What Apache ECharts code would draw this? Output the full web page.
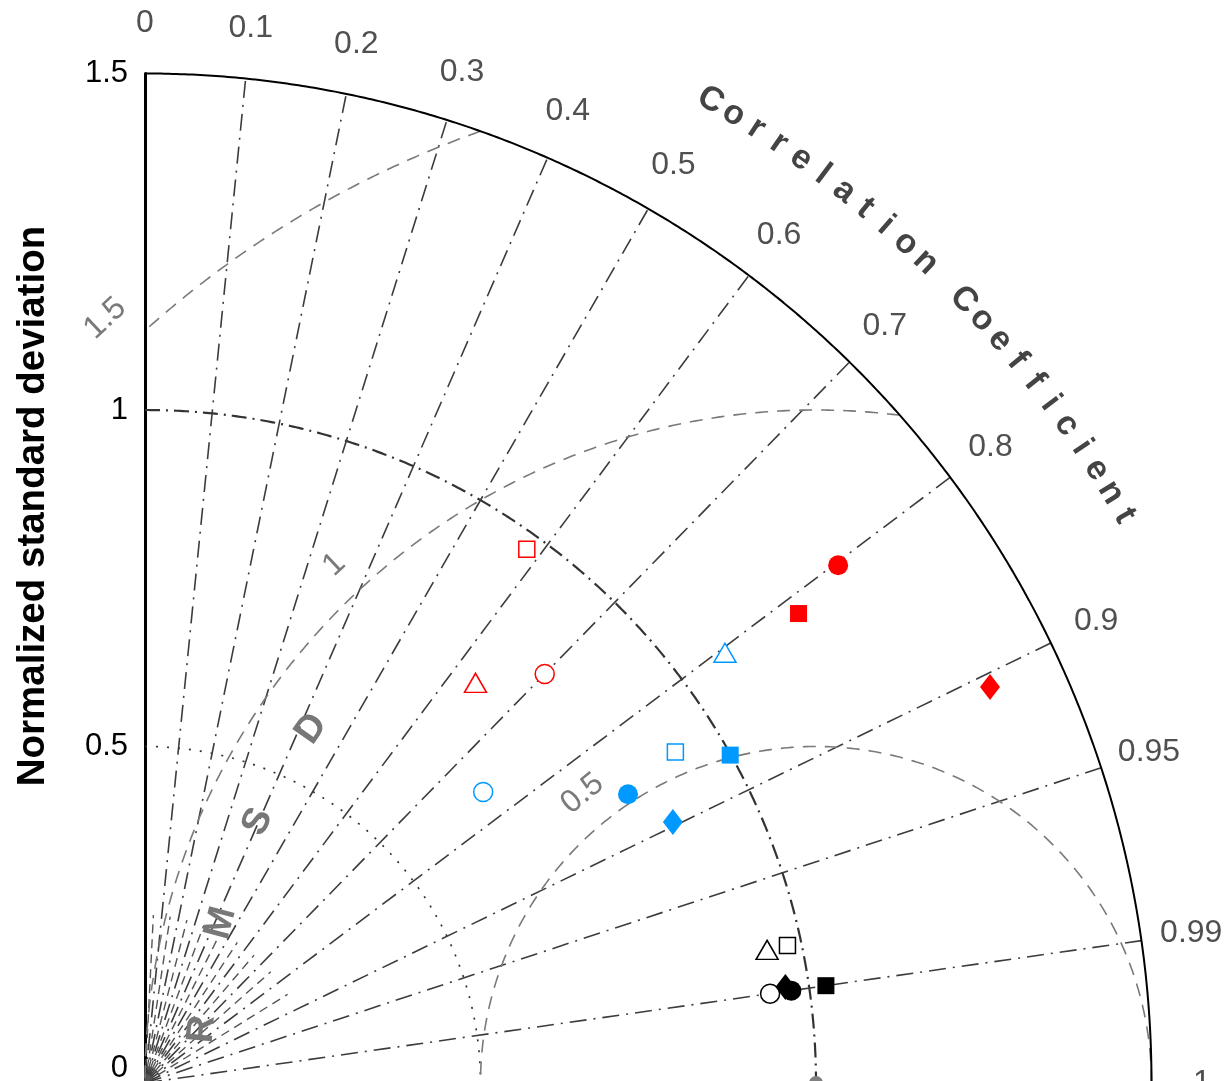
<!DOCTYPE html>
<html><head><meta charset="utf-8">
<script src="https://cdn.jsdelivr.net/npm/echarts@6/dist/echarts.min.js"></script>
<style>html,body{margin:0;padding:0;background:#fff}#c{width:1228px;height:1081px}</style>
</head><body><div id="c"></div>
<script>
// ---------------- data ----------------
const groupNames = ['red', 'blue', 'black'];
// normalized standard deviation and correlation, order: red, blue, black
const stdOpenCircle    = [0.851, 0.664, 0.941];
const corrOpenCircle   = [0.700, 0.759, 0.990];
const stdOpenSquare    = [0.976, 0.931, 0.979];
const corrOpenSquare   = [0.583, 0.849, 0.978];
const stdOpenTriangle  = [0.772, 1.075, 0.948];
const corrOpenTriangle = [0.638, 0.804, 0.978];
const stdDiamond       = [1.390, 0.877, 0.965];
const corrDiamond      = [0.906, 0.897, 0.989];
const stdFilledCircle  = [1.288, 0.838, 0.973];
const corrFilledCircle = [0.802, 0.859, 0.990];
const stdFilledSquare  = [1.198, 0.999, 1.025];
const corrFilledSquare = [0.813, 0.873, 0.990];

const refStd = 1.0;
const stdMax = 1.5;
const corrMajor = [0.1, 0.2, 0.3, 0.4, 0.5, 0.6, 0.7, 0.8, 0.9, 0.95, 0.99];
const corrMinor = [0.05, 0.15, 0.25, 0.35, 0.45, 0.55, 0.65, 0.75, 0.85];
const corrTickValues = [0, 0.1, 0.2, 0.3, 0.4, 0.5, 0.6, 0.7, 0.8, 0.9, 0.95, 0.99, 1];
const corrTickLabels = ['0', '0.1', '0.2', '0.3', '0.4', '0.5', '0.6', '0.7', '0.8', '0.9', '0.95', '0.99', '1'];
const rmsdLevels = [0.5, 1.0, 1.5];
const rmsdLevelLabels = ['0.5', '1', '1.5'];
const yTickValues = [0, 0.5, 1, 1.5];
const yTitle = 'Normalized standard deviation';
const corrTitle = 'Correlation Coefficient';
const rmsdTitle = ['R', 'M', 'S', 'D'];

// ---------------- styles / layout ----------------
const groupColors = ['#ff0000', '#0099ff', '#000000'];
const FONT = '"Liberation Sans", Arial, Helvetica, sans-serif';
const D = Math.PI / 180;

function toXY(s, c) { return [s * c, s * Math.sqrt(Math.max(0, 1 - c * c))]; }
function polarXY(cx, r, angDeg) { return [cx + r * Math.cos(angDeg * D), r * Math.sin(angDeg * D)]; }
function arc(cx, r, a0, a1, n) {
  const pts = [];
  for (let i = 0; i <= n; i++) { pts.push(polarXY(cx, r, a0 + (a1 - a0) * i / n)); }
  return pts;
}
function lineSeries(data, color, width, type, z) {
  return { type: 'line', data: data, showSymbol: false, symbol: 'none', silent: true, clip: false,
    lineStyle: { color: color, width: width, type: type, opacity: 1 }, z: z || 2, animation: false };
}
function textSeries(items, style, z) {
  return { type: 'scatter', symbolSize: 1, clip: false, silent: true, z: z || 4, animation: false,
    itemStyle: { color: 'rgba(0,0,0,0)', opacity: 1 },
    label: Object.assign({ show: true, position: 'inside', formatter: '{b}', fontFamily: FONT,
      align: 'center', verticalAlign: 'middle' }, style),
    data: items.map(it => ({ name: it.t, value: it.p, label: { rotate: it.r } })) };
}

const series = [];
// std arcs
series.push(lineSeries(arc(0, 0.5, 90, 0, 180), '#333', 1.7, [2, 9], 2));
series.push(lineSeries(arc(0, 1.0, 90, 0, 360), '#333', 2.2, [15, 6, 2, 6], 2));
series.push(lineSeries(arc(0, stdMax, 90, 0, 400), '#000', 2, 'solid', 3));
// radial correlation lines
corrMajor.forEach(c => series.push(lineSeries([[0, 0], toXY(stdMax, c)], '#3c3c3c', 1.6, [17, 7, 2, 7], 2)));
corrMinor.forEach(c => series.push(lineSeries([[0, 0], toXY(0.25, c)], '#555', 1.4, [9, 6], 2)));
// RMSD arcs around reference point
rmsdLevels.forEach(r => {
  const cMin = (stdMax * stdMax - refStd * refStd - r * r) / (2 * r * refStd);
  const a0 = cMin >= 1 ? 0 : Math.acos(Math.max(-1, Math.min(1, cMin))) / D;
  const a1 = Math.acos(Math.max(-1, -refStd / r)) / D;
  series.push(lineSeries(arc(refStd, r, a0, a1, 300), '#7a7a7a', 1.6, [13, 9], 2));
});
// correlation tick labels
series.push(textSeries(corrTickValues.map((c, i) => ({ t: corrTickLabels[i], p: toXY(1.575, c), r: 0 })),
  { fontSize: 32, color: '#505050' }));
// correlation title along arc
const titleChars = corrTitle.split('');
series.push(textSeries(titleChars.map((ch, i) => {
  const a = 60 - i * 30 / (titleChars.length - 1);
  return { t: ch === ' ' ? '' : ch, p: polarXY(0, 1.686, a), r: a - 90 };
}), { fontSize: 34, fontWeight: 'bold', color: '#444' }));
// RMSD level labels
const rmsdLabelAng = [129, 133, 133];
series.push(textSeries(rmsdLevels.map((r, i) => ({ t: rmsdLevelLabels[i], p: polarXY(refStd, r + 0.053, rmsdLabelAng[i]), r: rmsdLabelAng[i] - 90 })),
  { fontSize: 32, color: '#7a7a7a' }));
// RMSD title letters
series.push(textSeries(rmsdTitle.map((ch, i) => { const a = 175 - 10 * i; return { t: ch, p: polarXY(refStd, 0.918, a), r: a - 90 }; }),
  { fontSize: 38, fontWeight: 'bold', color: '#777' }));

// reference point
series.push({ type: 'scatter', clip: false, silent: true, z: 6, symbol: 'circle', symbolSize: 14,
  itemStyle: { color: '#808080', opacity: 1 }, data: [toXY(refStd, 1)] });

// markers
function markerSeries(name, stds, corrs, symbol, size, open) {
  return { type: 'scatter', name: name, clip: false, silent: true, z: 6, symbol: symbol, symbolSize: size,
    data: stds.map((s, i) => ({ value: toXY(s, corrs[i]),
      itemStyle: open ? { color: '#fff', borderColor: groupColors[i], borderWidth: 1.5, opacity: 1 }
                      : { color: groupColors[i], opacity: 1 } })) };
}
series.push(markerSeries('open circle', stdOpenCircle, corrOpenCircle, 'circle', 19, true));
series.push(markerSeries('open square', stdOpenSquare, corrOpenSquare, 'rect', 16, true));
series.push(markerSeries('open triangle', stdOpenTriangle, corrOpenTriangle, 'triangle', [22, 19], true));
series.push(markerSeries('filled diamond', stdDiamond, corrDiamond, 'diamond', [20, 26], false));
series.push(markerSeries('filled circle', stdFilledCircle, corrFilledCircle, 'circle', 20, false));
series.push(markerSeries('filled square', stdFilledSquare, corrFilledSquare, 'rect', 17, false));

const chart = echarts.init(document.getElementById('c'), null, { renderer: 'canvas' });
chart.setOption({
  animation: false,
  backgroundColor: '#fff',
  grid: { left: 145, top: 73.5, width: 1006.5, height: 1009.5, containLabel: false, outerBoundsMode: 'none' },
  xAxis: { type: 'value', min: 0, max: stdMax, show: false },
  yAxis: {
    type: 'value', min: 0, max: stdMax, interval: 0.5,
    axisLine: { show: true, lineStyle: { color: '#000', width: 3 } },
    axisTick: { show: false }, splitLine: { show: false },
    axisLabel: {
      show: true, margin: 17, fontSize: 31, color: '#000', fontFamily: FONT,
      formatter: v => (v === 0 ? '{z|0}' : String(v)),
      rich: { z: { fontSize: 31, color: '#000', fontFamily: FONT, padding: [0, 0, 30, 0] } }
    }
  },
  graphic: [{
    type: 'text', x: 33, y: 506, rotation: Math.PI / 2, silent: true,
    style: { text: yTitle, font: 'bold 38.5px ' + FONT, fill: '#000', align: 'center', verticalAlign: 'middle' }
  }],
  series: series
});
</script></body></html>
